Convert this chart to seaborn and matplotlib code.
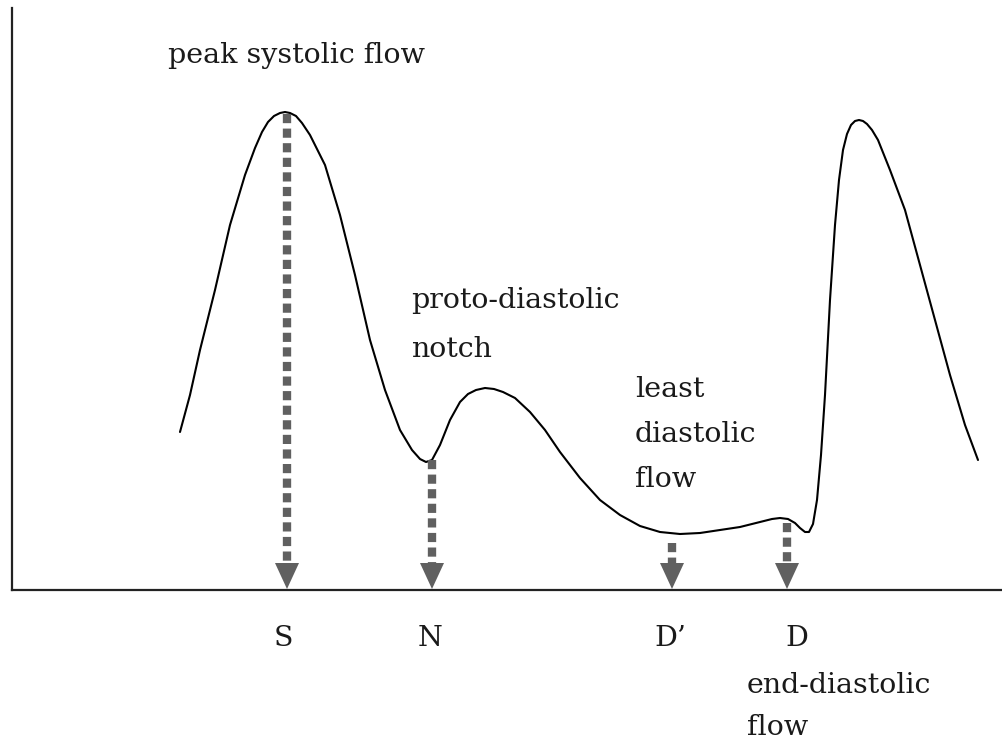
import numpy as np
import pandas as pd
import seaborn as sns
import matplotlib.pyplot as plt

# waveform: x position, height above baseline
wave_x = [180, 190, 200, 215, 230, 245, 255, 262, 268, 274, 280, 285, 290, 296,
          302, 310, 325, 340, 355, 370, 385, 400, 412, 420, 426, 432, 440, 450,
          460, 468, 476, 485, 494, 503, 515, 530, 545, 560, 580, 600, 620, 640,
          660, 680, 700, 720, 740, 760, 772, 780, 788, 795, 800, 805, 809, 813,
          817, 821, 825, 830, 835, 839, 843, 847, 851, 855, 859, 863, 867, 872,
          878, 890, 905, 920, 935, 950, 965, 978]
wave_y = [158, 195, 240, 300, 365, 415, 442, 458, 468, 474, 477, 478, 477, 474,
          467, 455, 425, 375, 315, 250, 200, 160, 140, 131, 128, 130, 145, 170,
          188, 196, 200, 202, 201, 198, 192, 178, 160, 138, 112, 90, 75, 64,
          58, 56, 57, 60, 63, 68, 71, 72, 71, 67, 62, 58, 58, 66,
          90, 135, 195, 290, 365, 410, 440, 456, 465, 469, 470, 469, 466, 460,
          450, 420, 380, 325, 270, 215, 165, 130]

# markers on the time axis
marker_labels = ["S", "N", "D\u2019", "D"]
marker_x = [287, 432, 672, 787]
marker_top = [476, 130, 47, 67]
label_x = [283, 430, 670, 797]

# annotation text: (lines, left x, baselines as heights above the axis)
notes = [
    (["peak systolic flow"], 168, [527]),
    (["proto-diastolic", "notch"], 411, [282, 233]),
    (["least", "diastolic", "flow"], 635, [193, 148, 103]),
    (["end-diastolic", "flow"], 747, [-103, -145]),
]

sns.set_style("white")
plt.rcParams["font.family"] = ["DejaVu Serif"]
plt.rcParams["text.color"] = "#1a1a1a"

fig = plt.figure(figsize=(10.02, 7.42), dpi=100)
ax = fig.add_axes([12 / 1002, 152 / 742, 990 / 1002, 582 / 742])

df = pd.DataFrame({"t": wave_x, "v": wave_y})
sns.lineplot(data=df, x="t", y="v", sort=False, color="black", lw=1.5, ax=ax)

grey = "#606060"
for x, top in zip(marker_x, marker_top):
    ax.plot([x, x], [top, 26], color=grey, lw=6, ls=(0, (1.1, 0.65)),
            solid_capstyle="butt")
    ax.fill([x - 12, x + 12, x], [27, 27, 1], color=grey, lw=0)

for lab, x in zip(marker_labels, label_x):
    ax.text(x, -56, lab, fontsize=20.5, ha="center", va="baseline",
            clip_on=False)

for lines, x, ys in notes:
    for line, y in zip(lines, ys):
        ax.text(x, y, line, fontsize=20.5, ha="left", va="baseline",
                clip_on=False)

ax.set_xlim(12, 1002)
ax.set_ylim(0, 582)
ax.set_xticks([])
ax.set_yticks([])
ax.set_xlabel("")
ax.set_ylabel("")
sns.despine(ax=ax)
for s in ["left", "bottom"]:
    ax.spines[s].set_color("#222222")
    ax.spines[s].set_linewidth(1.6)

fig.savefig("out.png", dpi=100)
